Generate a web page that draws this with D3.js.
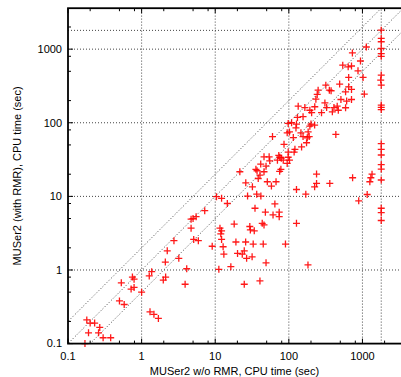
<!DOCTYPE html>
<html>
<head>
<meta charset="utf-8">
<script src="https://cdn.jsdelivr.net/npm/d3@7"></script>
<style>
  html, body { margin: 0; padding: 0; background: #fff; }
  svg { display: block; font-family: 'Liberation Sans', Arial, sans-serif; }
</style>
</head>
<body>
<div id="chart"></div>
<script>
// CPU time (sec) without RMR (x) and with RMR (y)
const withoutRmr = [
  0.18, 0.20, 0.23, 0.19, 0.27, 0.26, 0.30, 0.38, 0.17, 0.53, 0.50, 0.58, 0.72, 0.79, 0.75, 0.79, 1.0, 1.27,
  1.37, 1.3, 1.47, 1.69, 1.97, 2.12, 2.1, 2.23, 2.75, 3.2, 4.1, 3.9, 4.7, 4.7, 5.0, 5.5, 5.1, 5.9,
  10.4, 12.2, 14.6, 7.2, 27.5, 36.6, 41.7, 64.6, 34.7, 48, 61, 74, 74, 11.6, 12.2, 11.9, 18.1, 29.5,
  30, 33.9, 43.5, 46, 127, 12.2, 9.1, 12.8, 19.1, 25.9, 32.8, 44.9, 90, 13.1, 20.1, 23.3, 24.8, 26.7,
  31.7, 49, 16.3, 11.2, 182, 40.5, 24.8, 890, 1160, 1800, 1800, 1800, 170,
  1800, 1800, 1800, 1800, 1800, 1800, 1770, 1800, 1800, 1800, 1800, 1800, 1800, 1800, 1800, 1800, 1800, 1800,
  1130, 730, 940, 540, 640, 710, 870, 1020, 650, 490, 650, 710, 590, 1060, 318, 250, 355, 375, 243, 233,
  510, 610, 710, 590, 454, 410, 390, 470, 309, 225, 278, 326, 134, 165, 193, 204, 131, 156, 98, 109, 127,
  200, 224, 125, 193, 95, 102, 115, 146, 156, 183, 189, 178, 174, 149, 60, 86, 121, 118, 98, 46, 54, 55,
  73, 75.5, 70, 84, 98, 102, 95, 79, 41.5, 49, 78, 75, 35.7, 37, 46, 21.6, 238, 435, 735, 1350, 1300,
  1260, 26, 32, 38.4, 51, 67, 58, 238, 360, 127, 224, 40.5
]
const withRmr = [
  0.21, 0.19, 0.19, 0.14, 0.166, 0.14, 0.12, 0.12, 0.1, 0.67, 0.38, 0.34, 0.55, 0.58, 0.80, 0.75, 0.50, 0.83,
  0.95, 0.27, 0.25, 0.22, 0.73, 0.80, 1.28, 1.82, 2.5, 1.44, 1.04, 0.64, 3.7, 4.9, 5.0, 5.3, 2.6, 2.5,
  9.9, 9.4, 8.0, 6.4, 10.1, 10.7, 10.1, 7.9, 6.9, 6.1, 5.6, 6.1, 5.3, 3.7, 3.4, 3.1, 4.2, 3.9,
  3.5, 3.4, 4.3, 4.1, 4.3, 2.6, 2.1, 2.07, 2.4, 2.4, 2.25, 2.25, 2.25, 1.64, 1.68, 1.64, 1.82, 1.44,
  1.51, 1.25, 1.11, 1.02, 1.17, 0.71, 0.64, 8.7, 10.6, 6.9, 6.0, 4.7, 10.7,
  1810, 1400, 1260, 1020, 870, 800, 380, 444, 324, 174, 162, 151, 52, 43.5, 36.5, 27, 23.5, 16.7,
  1070, 890, 690, 605, 575, 590, 507, 413, 413, 335, 308, 284, 263, 245, 324, 277, 277, 272, 243, 209,
  207, 197, 207, 160, 168, 161, 141, 148, 186, 165, 137, 161, 168, 161, 148, 137, 118, 121, 98, 100, 96,
  96, 93, 85, 90, 73, 75, 63, 73, 65, 75, 65, 62.5, 53.5, 47, 65, 51, 43.5, 40, 40, 34.5, 34.5, 30.4,
  36, 34, 31, 31, 34, 31, 28, 33, 27.5, 25.7, 23.3, 21.9, 23.3, 22.3, 21.6, 21.6, 20.1, 69.5, 17.9, 20, 17.9,
  15.8, 15.3, 13.5, 17.5, 15.8, 15.8, 13.8, 15, 15, 12.4, 13.5, 19.5
]

const majorTicks = [0.1, 1, 10, 100, 1000]
const tickLabels = ['0.1', '1', '10', '100', '1000']
const minorTicks = [0.2, 0.5, 0.8, 2, 5, 8, 20, 50, 80, 200, 500, 800, 2000]
const timeout = 1800
const ratios = [2, 1, 0.5]
const xLabel = 'MUSer2 w/o RMR, CPU time (sec)'
const yLabel = 'MUSer2 (with RMR), CPU time (sec)'

const points = withoutRmr.map((x, i) => ({ x, y: withRmr[i] }))

const width = 401
const height = 377
const margin = { top: 8.2, right: -2.4, bottom: 33.4, left: 68 }

const svg = d3.select('#chart')
  .append('svg')
  .attr('width', width)
  .attr('height', height)

const x = d3.scaleLog()
  .domain([0.1, 3600])
  .range([margin.left, width - margin.right])

const y = d3.scaleLog()
  .domain([0.1, 3600])
  .range([height - margin.bottom, margin.top])

const [x0, x1] = x.range()
const [y0, y1] = y.range()

const dotted = g => g
  .attr('fill', 'none')
  .attr('stroke', '#444')
  .attr('stroke-width', 1)
  .attr('stroke-dasharray', '1,2')

// grid at decades and at the timeout
svg.append('g')
  .selectAll('line')
  .data(majorTicks.slice(1).concat([timeout]))
  .join('line')
  .attr('x1', d => x(d))
  .attr('x2', d => x(d))
  .attr('y1', y0)
  .attr('y2', y1)
  .call(dotted)

svg.append('g')
  .selectAll('line')
  .data(majorTicks.slice(1).concat([timeout]))
  .join('line')
  .attr('x1', x0)
  .attr('x2', x1)
  .attr('y1', d => y(d))
  .attr('y2', d => y(d))
  .call(dotted)

// y = 2x, y = x, y = x/2
svg.append('defs').append('clipPath')
  .attr('id', 'plot-clip')
  .append('rect')
  .attr('x', x0)
  .attr('y', y1)
  .attr('width', x1 - x0)
  .attr('height', y0 - y1)

svg.append('g')
  .attr('clip-path', 'url(#plot-clip)')
  .selectAll('line')
  .data(ratios)
  .join('line')
  .attr('x1', x(0.01))
  .attr('y1', r => y(0.01 * r))
  .attr('x2', x(10000))
  .attr('y2', r => y(10000 * r))
  .call(dotted)

// points
const s = 3.5
const marks = svg.append('g')
  .attr('stroke', '#ff0000')
  .attr('stroke-width', 1.3)
  .attr('stroke-opacity', 0.9)

marks.selectAll('path')
  .data(points)
  .join('path')
  .attr('d', d => {
    const px = x(d.x)
    const py = y(d.y)
    return `M${px - s},${py}H${px + s}M${px},${py - s}V${py + s}`
  })

// ticks (inward)
const ticks = svg.append('g')
  .attr('stroke', '#000')
  .attr('stroke-width', 1)

const tickData = majorTicks.map(v => ({ v, len: 5 }))
  .concat(minorTicks.map(v => ({ v, len: 3 })))

ticks.selectAll('.xb')
  .data(tickData)
  .join('line')
  .attr('x1', d => x(d.v)).attr('x2', d => x(d.v))
  .attr('y1', y0).attr('y2', d => y0 - d.len)

ticks.selectAll('.xt')
  .data(tickData)
  .join('line')
  .attr('x1', d => x(d.v)).attr('x2', d => x(d.v))
  .attr('y1', y1).attr('y2', d => y1 + d.len)

ticks.selectAll('.yl')
  .data(tickData)
  .join('line')
  .attr('x1', x0).attr('x2', d => x0 + d.len)
  .attr('y1', d => y(d.v)).attr('y2', d => y(d.v))

// frame
svg.append('rect')
  .attr('x', x0)
  .attr('y', y1)
  .attr('width', x1 - x0)
  .attr('height', y0 - y1)
  .attr('fill', 'none')
  .attr('stroke', '#000')
  .attr('stroke-width', 1.8)

// tick labels
svg.append('g')
  .selectAll('text')
  .data(majorTicks)
  .join('text')
  .attr('x', d => x(d))
  .attr('y', y0 + 16)
  .attr('text-anchor', 'middle')
  .attr('font-size', 11)
  .text((d, i) => tickLabels[i])

svg.append('g')
  .selectAll('text')
  .data(majorTicks)
  .join('text')
  .attr('x', x0 - 6)
  .attr('y', d => y(d))
  .attr('dy', '0.35em')
  .attr('text-anchor', 'end')
  .attr('font-size', 11)
  .text((d, i) => tickLabels[i])

// axis titles
svg.append('text')
  .attr('x', (x0 + 401) / 2)
  .attr('y', 375)
  .attr('text-anchor', 'middle')
  .attr('font-size', 11)
  .text(xLabel)

svg.append('text')
  .attr('transform', `translate(21,${(y0 + y1) / 2}) rotate(-90)`)
  .attr('text-anchor', 'middle')
  .attr('font-size', 11)
  .text(yLabel)
</script>
</body>
</html>
